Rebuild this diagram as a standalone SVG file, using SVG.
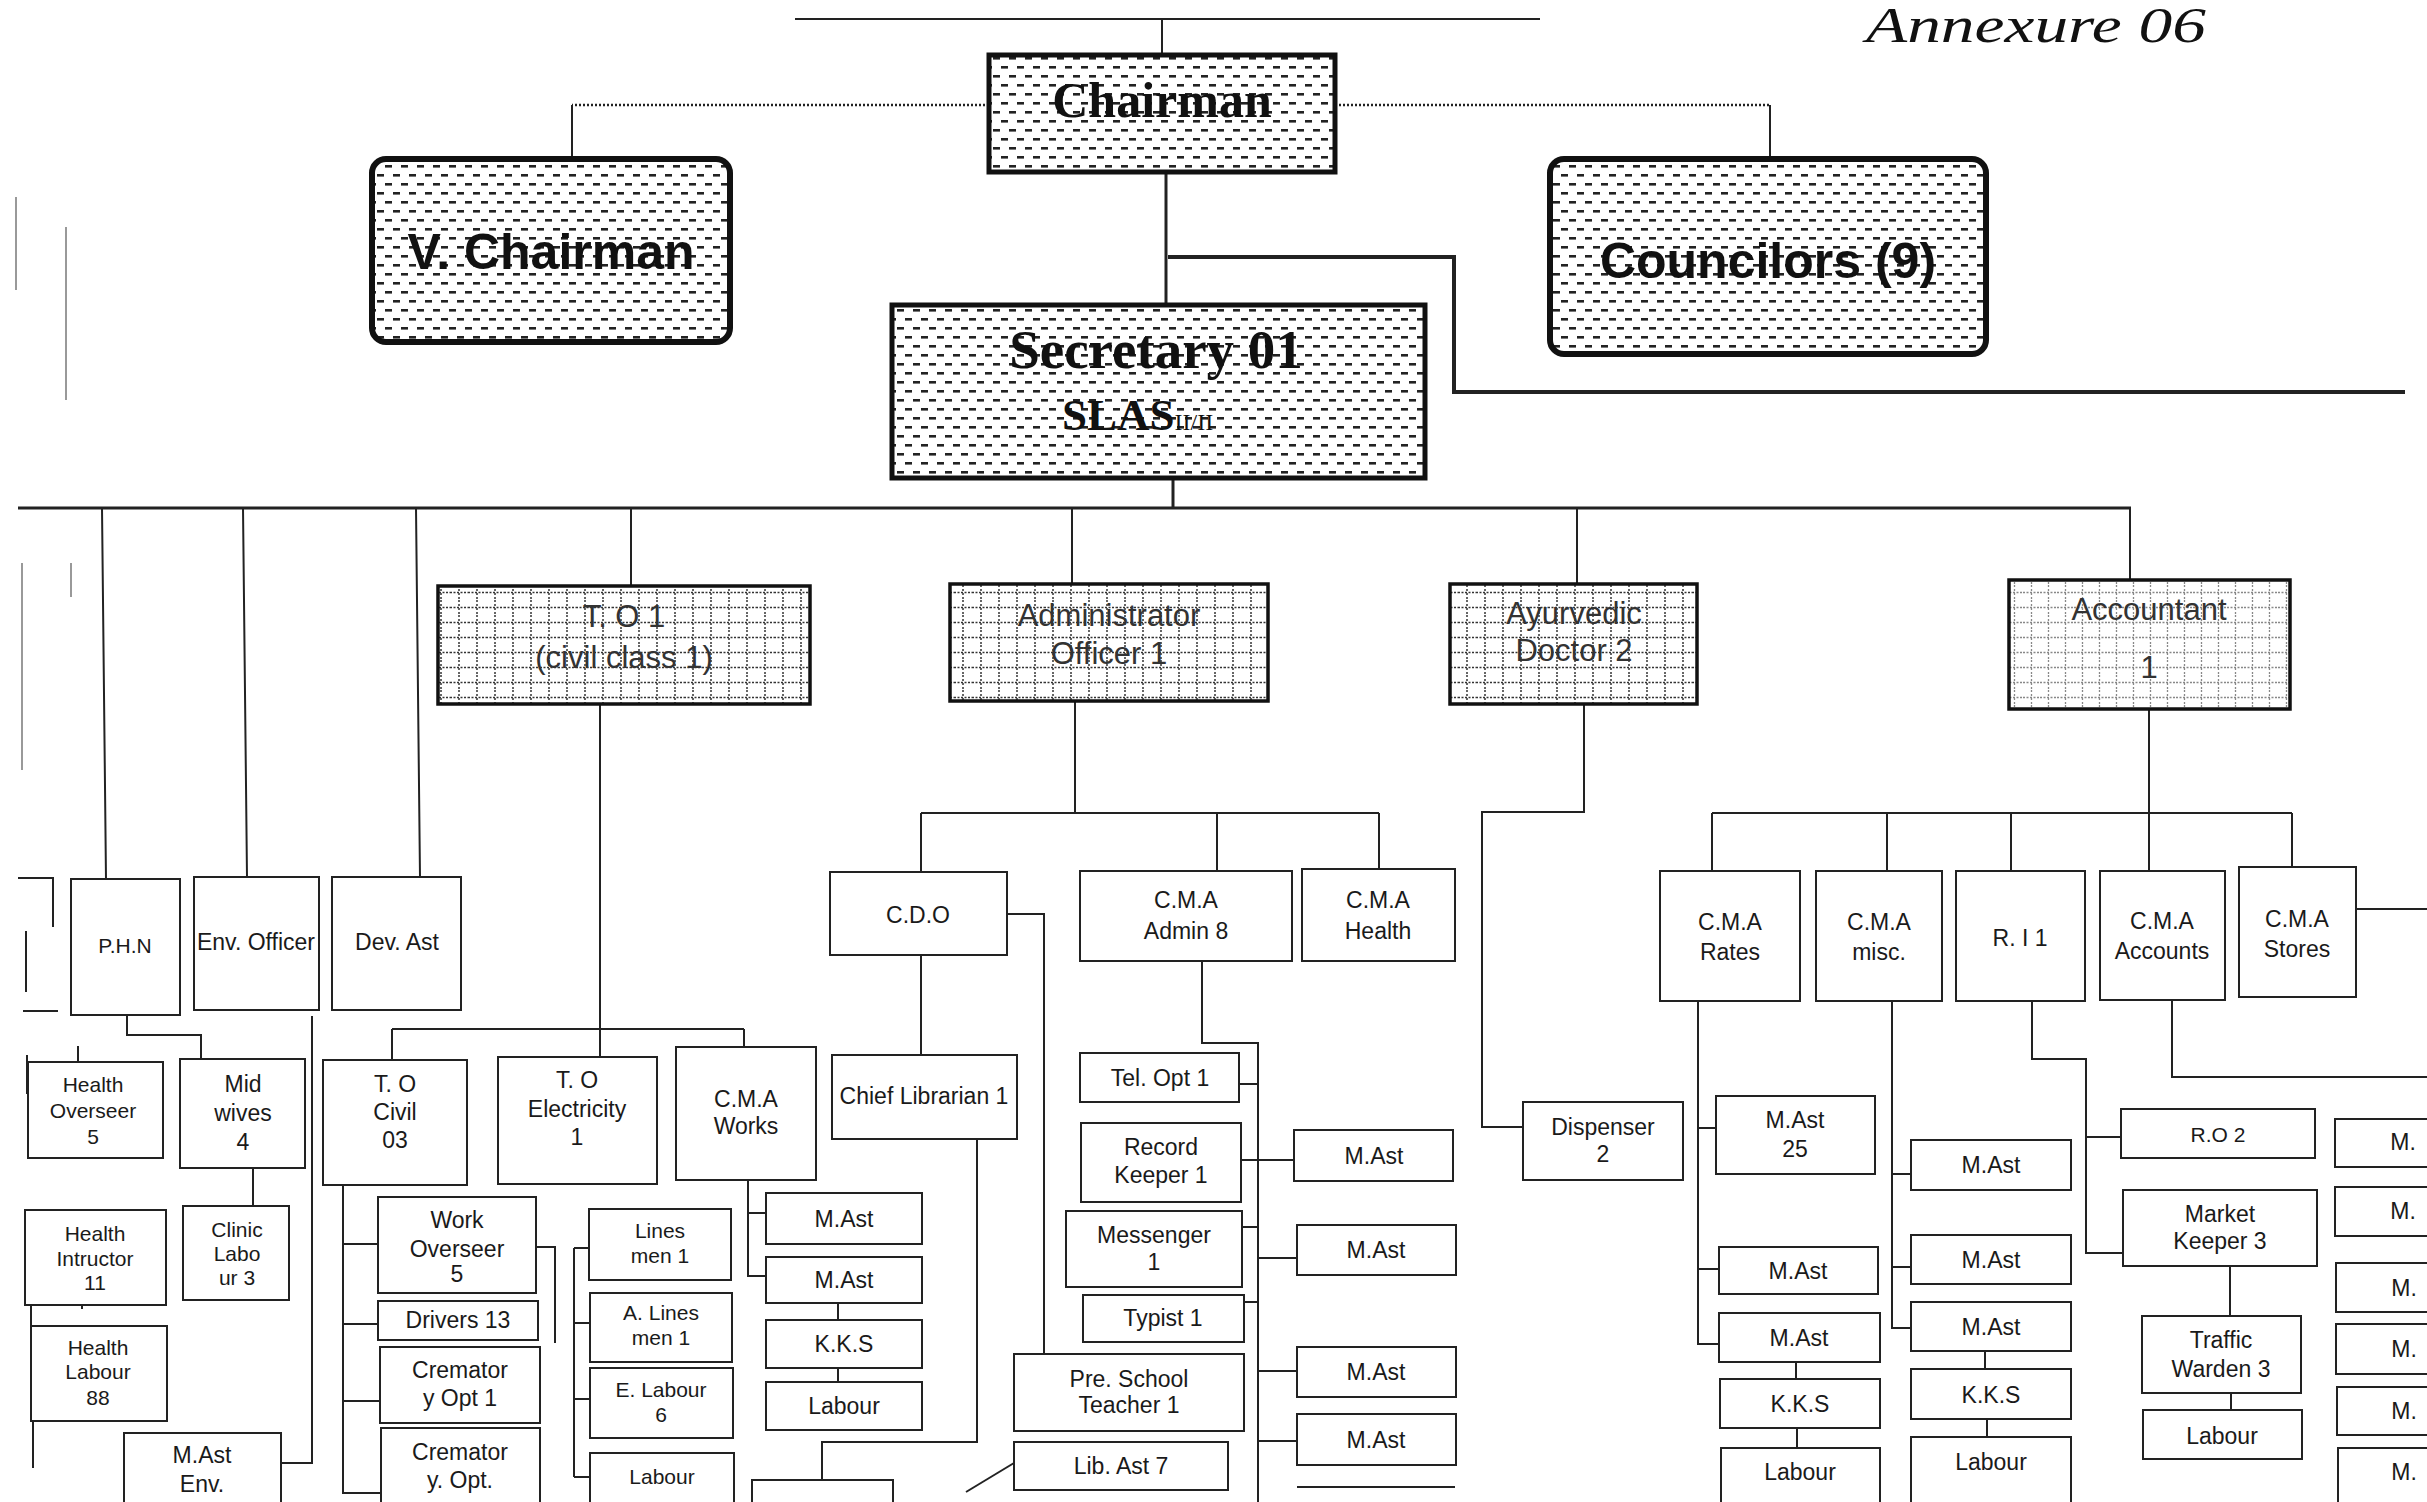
<svg xmlns="http://www.w3.org/2000/svg" width="2427" height="1502" viewBox="0 0 2427 1502">
<defs>
<pattern id="dash" width="16" height="18" patternUnits="userSpaceOnUse">
<rect width="16" height="18" fill="#fff"/>
<rect x="1" y="3" width="7" height="2.6" fill="#222"/>
<rect x="9" y="12" width="7" height="2.6" fill="#222"/>
</pattern>
<pattern id="grid" width="18" height="15" patternUnits="userSpaceOnUse">
<rect width="18" height="15" fill="#fff"/>
<path d="M9 0V15" stroke="#333" stroke-width="1.5" stroke-dasharray="2 2"/>
<path d="M0 7.5H18" stroke="#333" stroke-width="1.5" stroke-dasharray="2 1.5"/>
</pattern>
<pattern id="grid2" width="17" height="15" patternUnits="userSpaceOnUse">
<rect width="17" height="15" fill="#fff"/>
<path d="M8.5 0V15" stroke="#888" stroke-width="1.3" stroke-dasharray="2 2"/>
<path d="M0 7.5H17" stroke="#888" stroke-width="1.3" stroke-dasharray="2 1.5"/>
</pattern>
</defs>
<style>
.b{fill:#fff;stroke:#222;stroke-width:2}
.t{font-family:"Liberation Sans",Arial,sans-serif;font-size:23px;fill:#1a1a1a;text-anchor:middle}
.ts{font-size:21px}
.tm{font-size:31px;fill:#333}
.tb{font-family:"Liberation Sans",Arial,sans-serif;font-weight:bold;font-size:50px;fill:#111;text-anchor:middle}
.tsf{font-family:"Liberation Serif","Times New Roman",serif;font-weight:bold;fill:#111}
.d{fill:url(#dash);stroke:#111;stroke-width:5}
.dr{fill:url(#dash);stroke:#111;stroke-width:6}
.g{fill:url(#grid);stroke:#111;stroke-width:3.5}
.g2{fill:url(#grid2);stroke:#111;stroke-width:3.5}
.c{fill:none;stroke:#222;stroke-width:2}
.ck{stroke-width:3}
.cx{stroke-width:4}
.dt{stroke-dasharray:2 2;stroke-width:2.5}
.f{fill:none;stroke:#999;stroke-width:2}
</style>
<rect width="2427" height="1502" fill="#fff"/>

<text x="1866" y="42" font-family="Liberation Serif, serif" font-style="italic" font-size="50" fill="#111" textLength="340" lengthAdjust="spacingAndGlyphs">Annexure 06</text>

<g id="connectors">
<path class="c" d="M795 19H1540M1162 19V55"/>
<path class="c dt" d="M989 105H572M1335 105H1770"/>
<path class="c" d="M572 105V159M1770 105V159"/>
<path class="c ck" d="M1166 172V305"/>
<path class="c cx" d="M1168 257H1454V392H2405"/>
<path class="c ck" d="M1173 478V508"/>
<path class="c ck" d="M18 508H2131"/>
<path class="c" d="M102 508L106 879M243 508L247 877M416 508L420 877M631 508V586M1072 508V584M1577 508V584M2130 508V580"/>
<!-- left fragments -->
<path class="c" d="M18 878H53V927M23 1011H58M26 931V992M27 1055V1094M78 1046V1090M31 1274V1331M82 1272V1309M33 1363V1468"/>
<path class="f" d="M16 197V290M66 227V400M22 563V770M71 563V597"/>
<!-- health -->
<path class="c" d="M127 1015V1035H201V1059M253 1168V1206M312 1016V1463H282"/>
<!-- T.O -->
<path class="c" d="M600 704V1057M392 1029H744M392 1029V1060M744 1029V1047"/>
<path class="c" d="M343 1185V1493H381M343 1244H378M343 1324H378M343 1401H380"/>
<path class="c" d="M536 1247H555V1343M574 1248V1477M574 1248H589M574 1323H590M574 1399H590M574 1477H590"/>
<path class="c" d="M748 1180V1276H766M748 1213H766M838 1303V1320M838 1368V1382"/>
<path class="c" d="M752 1502V1480H893V1502M822 1480V1442H977V1139"/>
<!-- admin -->
<path class="c" d="M1075 701V813M921 813H1379M921 813V872M1217 813V871M1379 813V869"/>
<path class="c" d="M1007 914H1044V1354M921 955V1055"/>
<path class="c" d="M1202 961V1043H1258V1502"/>
<path class="c" d="M1239 1084H1258M1241 1160H1294M1242 1227H1258M1258 1258H1297M1244 1302H1258M1258 1371H1297M1258 1441H1297M1297 1487H1455"/>
<path class="c" d="M1014 1463L966 1492"/>
<!-- ayurvedic -->
<path class="c" d="M1584 704V812H1482V1127H1523"/>
<!-- accountant -->
<path class="c" d="M2149 709V871M1712 813H2292M1712 813V871M1887 813V871M2011 813V872M2292 813V867"/>
<path class="c" d="M2356 909H2427M2172 1000V1077H2427"/>
<path class="c" d="M1698 1001V1344H1719M1698 1128H1716M1698 1269H1719M1796 1362V1379M1797 1428V1448"/>
<path class="c" d="M1892 1001V1328H1911M1892 1174H1911M1892 1267H1911M1985 1351V1369M1987 1419V1437"/>
<path class="c" d="M2032 1001V1059H2086V1253H2122M2086 1137H2121M2230 1266V1316M2231 1393V1410"/>
</g>

<g id="chairman"><rect class="d" x="989" y="55" width="346" height="117"/><text class="tsf" x="1162" y="117" font-size="50" text-anchor="middle">Chairman</text></g>
<g id="vchairman"><rect class="dr" x="372" y="159" width="358" height="183" rx="14"/><text class="tb" x="551" y="269">V. Chairman</text></g>
<g id="councilors"><rect class="dr" x="1550" y="159" width="436" height="195" rx="14"/><text class="tb" x="1768" y="278">Councilors (9)</text></g>
<g id="secretary"><rect class="d" x="892" y="305" width="533" height="173"/><text class="tsf" x="1156" y="368" font-size="55" text-anchor="middle">Secretary 01</text><text class="tsf" x="1062" y="430" font-size="45">SLAS<tspan font-size="24" font-weight="normal">II/II</tspan></text></g>

<g id="to1"><rect class="g" x="438" y="586" width="372" height="118"/><text class="t tm" x="624" y="627">T. O 1</text><text class="t tm" x="624" y="668">(civil class 1)</text></g>
<g id="admin"><rect class="g" x="950" y="584" width="318" height="117"/><text class="t tm" x="1109" y="626">Administrator</text><text class="t tm" x="1109" y="664">Officer 1</text></g>
<g id="ayurvedic"><rect class="g" x="1450" y="584" width="247" height="120"/><text class="t tm" x="1574" y="624">Ayurvedic</text><text class="t tm" x="1574" y="661">Doctor 2</text></g>
<g id="accountant"><rect class="g2" x="2009" y="580" width="281" height="129"/><text class="t tm" x="2149" y="620">Accountant</text><text class="t tm" x="2149" y="678">1</text></g>

<g id="phn"><rect class="b" x="71" y="879" width="109" height="136"/><text class="t ts" x="125" y="953">P.H.N</text></g>
<g id="envofficer"><rect class="b" x="194" y="877" width="125" height="133"/><text class="t" x="256" y="950">Env. Officer</text></g>
<g id="devast"><rect class="b" x="332" y="877" width="129" height="133"/><text class="t" x="397" y="950">Dev. Ast</text></g>
<g id="healthoverseer"><rect class="b" x="28" y="1062" width="135" height="96"/><text class="t ts" x="93" y="1092">Health</text><text class="t ts" x="93" y="1118">Overseer</text><text class="t ts" x="93" y="1144">5</text></g>
<g id="midwives"><rect class="b" x="180" y="1059" width="125" height="109"/><text class="t" x="243" y="1092">Mid</text><text class="t" x="243" y="1121">wives</text><text class="t" x="243" y="1150">4</text></g>
<g id="cliniclabour"><rect class="b" x="183" y="1206" width="106" height="94"/><text class="t ts" x="237" y="1237">Clinic</text><text class="t ts" x="237" y="1261">Labo</text><text class="t ts" x="237" y="1285">ur 3</text></g>
<g id="healthinstructor"><rect class="b" x="25" y="1210" width="141" height="95"/><text class="t ts" x="95" y="1241">Health</text><text class="t ts" x="95" y="1266">Intructor</text><text class="t ts" x="95" y="1290">11</text></g>
<g id="healthlabour"><rect class="b" x="31" y="1326" width="136" height="95"/><text class="t ts" x="98" y="1355">Health</text><text class="t ts" x="98" y="1379">Labour</text><text class="t ts" x="98" y="1405">88</text></g>
<g id="mastenv"><rect class="b" x="124" y="1433" width="157" height="80"/><text class="t" x="202" y="1463">M.Ast</text><text class="t" x="202" y="1492">Env.</text></g>

<g id="tocivil"><rect class="b" x="323" y="1060" width="144" height="125"/><text class="t" x="395" y="1092">T. O</text><text class="t" x="395" y="1120">Civil</text><text class="t" x="395" y="1148">03</text></g>
<g id="toelec"><rect class="b" x="498" y="1057" width="159" height="127"/><text class="t" x="577" y="1088">T. O</text><text class="t" x="577" y="1117">Electricity</text><text class="t" x="577" y="1145">1</text></g>
<g id="cmaworks"><rect class="b" x="676" y="1047" width="140" height="133"/><text class="t" x="746" y="1107">C.M.A</text><text class="t" x="746" y="1134">Works</text></g>
<g id="workoverseer"><rect class="b" x="378" y="1197" width="158" height="96"/><text class="t" x="457" y="1228">Work</text><text class="t" x="457" y="1257">Overseer</text><text class="t" x="457" y="1282">5</text></g>
<g id="drivers"><rect class="b" x="378" y="1301" width="160" height="39"/><text class="t" x="458" y="1328">Drivers 13</text></g>
<g id="crem1"><rect class="b" x="380" y="1347" width="160" height="76"/><text class="t" x="460" y="1378">Cremator</text><text class="t" x="460" y="1406">y Opt 1</text></g>
<g id="crem2"><rect class="b" x="381" y="1428" width="159" height="85"/><text class="t" x="460" y="1460">Cremator</text><text class="t" x="460" y="1488">y. Opt.</text></g>
<g id="linesmen"><rect class="b" x="589" y="1209" width="142" height="71"/><text class="t ts" x="660" y="1238">Lines</text><text class="t ts" x="660" y="1263">men 1</text></g>
<g id="alinesmen"><rect class="b" x="590" y="1293" width="142" height="69"/><text class="t ts" x="661" y="1320">A. Lines</text><text class="t ts" x="661" y="1345">men 1</text></g>
<g id="elabour"><rect class="b" x="590" y="1368" width="143" height="70"/><text class="t ts" x="661" y="1397">E. Labour</text><text class="t ts" x="661" y="1422">6</text></g>
<g id="eleclabour"><rect class="b" x="590" y="1453" width="144" height="60"/><text class="t ts" x="662" y="1484">Labour</text></g>
<g id="wmast1"><rect class="b" x="766" y="1193" width="156" height="51"/><text class="t" x="844" y="1227">M.Ast</text></g>
<g id="wmast2"><rect class="b" x="766" y="1257" width="156" height="46"/><text class="t" x="844" y="1288">M.Ast</text></g>
<g id="wkks"><rect class="b" x="766" y="1320" width="156" height="48"/><text class="t" x="844" y="1352">K.K.S</text></g>
<g id="wlabour"><rect class="b" x="766" y="1382" width="156" height="48"/><text class="t" x="844" y="1414">Labour</text></g>

<g id="cdo"><rect class="b" x="830" y="872" width="177" height="83"/><text class="t" x="918" y="923">C.D.O</text></g>
<g id="cmaadmin"><rect class="b" x="1080" y="871" width="212" height="90"/><text class="t" x="1186" y="908">C.M.A</text><text class="t" x="1186" y="939">Admin 8</text></g>
<g id="cmahealth"><rect class="b" x="1302" y="869" width="153" height="92"/><text class="t" x="1378" y="908">C.M.A</text><text class="t" x="1378" y="939">Health</text></g>
<g id="chieflib"><rect class="b" x="832" y="1055" width="185" height="84"/><text class="t" x="924" y="1104">Chief Librarian 1</text></g>
<g id="telopt"><rect class="b" x="1080" y="1053" width="159" height="49"/><text class="t" x="1160" y="1086">Tel. Opt 1</text></g>
<g id="recordkeeper"><rect class="b" x="1081" y="1123" width="160" height="79"/><text class="t" x="1161" y="1155">Record</text><text class="t" x="1161" y="1183">Keeper 1</text></g>
<g id="messenger"><rect class="b" x="1066" y="1211" width="176" height="76"/><text class="t" x="1154" y="1243">Messenger</text><text class="t" x="1154" y="1270">1</text></g>
<g id="typist"><rect class="b" x="1083" y="1295" width="161" height="47"/><text class="t" x="1163" y="1326">Typist 1</text></g>
<g id="preschool"><rect class="b" x="1014" y="1354" width="230" height="77"/><text class="t" x="1129" y="1387">Pre. School</text><text class="t" x="1129" y="1413">Teacher 1</text></g>
<g id="libast"><rect class="b" x="1014" y="1442" width="214" height="48"/><text class="t" x="1121" y="1474">Lib. Ast 7</text></g>
<g id="amast1"><rect class="b" x="1294" y="1130" width="159" height="51"/><text class="t" x="1374" y="1164">M.Ast</text></g>
<g id="amast2"><rect class="b" x="1297" y="1225" width="159" height="50"/><text class="t" x="1376" y="1258">M.Ast</text></g>
<g id="amast3"><rect class="b" x="1297" y="1347" width="159" height="50"/><text class="t" x="1376" y="1380">M.Ast</text></g>
<g id="amast4"><rect class="b" x="1297" y="1414" width="159" height="51"/><text class="t" x="1376" y="1448">M.Ast</text></g>

<g id="dispenser"><rect class="b" x="1523" y="1102" width="160" height="78"/><text class="t" x="1603" y="1135">Dispenser</text><text class="t" x="1603" y="1162">2</text></g>

<g id="cmarates"><rect class="b" x="1660" y="871" width="140" height="130"/><text class="t" x="1730" y="930">C.M.A</text><text class="t" x="1730" y="960">Rates</text></g>
<g id="cmamisc"><rect class="b" x="1816" y="871" width="126" height="130"/><text class="t" x="1879" y="930">C.M.A</text><text class="t" x="1879" y="960">misc.</text></g>
<g id="ri1"><rect class="b" x="1956" y="871" width="129" height="130"/><text class="t" x="2020" y="946">R. I 1</text></g>
<g id="cmaaccounts"><rect class="b" x="2100" y="871" width="125" height="129"/><text class="t" x="2162" y="929">C.M.A</text><text class="t" x="2162" y="959">Accounts</text></g>
<g id="cmastores"><rect class="b" x="2239" y="867" width="117" height="130"/><text class="t" x="2297" y="927">C.M.A</text><text class="t" x="2297" y="957">Stores</text></g>

<g id="rmast25"><rect class="b" x="1716" y="1096" width="159" height="78"/><text class="t" x="1795" y="1128">M.Ast</text><text class="t" x="1795" y="1157">25</text></g>
<g id="rmast2"><rect class="b" x="1719" y="1247" width="159" height="47"/><text class="t" x="1798" y="1279">M.Ast</text></g>
<g id="rmast3"><rect class="b" x="1719" y="1313" width="161" height="49"/><text class="t" x="1799" y="1346">M.Ast</text></g>
<g id="rkks"><rect class="b" x="1720" y="1379" width="160" height="49"/><text class="t" x="1800" y="1412">K.K.S</text></g>
<g id="rlabour"><rect class="b" x="1721" y="1448" width="159" height="65"/><text class="t" x="1800" y="1480">Labour</text></g>

<g id="mmast1"><rect class="b" x="1911" y="1140" width="160" height="50"/><text class="t" x="1991" y="1173">M.Ast</text></g>
<g id="mmast2"><rect class="b" x="1911" y="1235" width="160" height="49"/><text class="t" x="1991" y="1268">M.Ast</text></g>
<g id="mmast3"><rect class="b" x="1911" y="1302" width="160" height="49"/><text class="t" x="1991" y="1335">M.Ast</text></g>
<g id="mkks"><rect class="b" x="1911" y="1369" width="160" height="50"/><text class="t" x="1991" y="1403">K.K.S</text></g>
<g id="mlabour"><rect class="b" x="1911" y="1437" width="160" height="76"/><text class="t" x="1991" y="1470">Labour</text></g>

<g id="ro2"><rect class="b" x="2121" y="1109" width="194" height="49"/><text class="t ts" x="2218" y="1142">R.O 2</text></g>
<g id="marketkeeper"><rect class="b" x="2123" y="1190" width="194" height="76"/><text class="t" x="2220" y="1222">Market</text><text class="t" x="2220" y="1249">Keeper 3</text></g>
<g id="trafficwarden"><rect class="b" x="2142" y="1316" width="159" height="77"/><text class="t" x="2221" y="1348">Traffic</text><text class="t" x="2221" y="1377">Warden 3</text></g>
<g id="tlabour"><rect class="b" x="2143" y="1410" width="159" height="49"/><text class="t" x="2222" y="1444">Labour</text></g>

<g id="m1"><rect class="b" x="2335" y="1119" width="110" height="48"/><text class="t" x="2403" y="1150">M.</text></g>
<g id="m2"><rect class="b" x="2335" y="1187" width="110" height="49"/><text class="t" x="2403" y="1219">M.</text></g>
<g id="m3"><rect class="b" x="2336" y="1263" width="110" height="49"/><text class="t" x="2404" y="1296">M.</text></g>
<g id="m4"><rect class="b" x="2336" y="1324" width="110" height="50"/><text class="t" x="2404" y="1357">M.</text></g>
<g id="m5"><rect class="b" x="2337" y="1387" width="110" height="48"/><text class="t" x="2404" y="1419">M.</text></g>
<g id="m6"><rect class="b" x="2338" y="1448" width="110" height="65"/><text class="t" x="2404" y="1480">M.</text></g>
</svg>
